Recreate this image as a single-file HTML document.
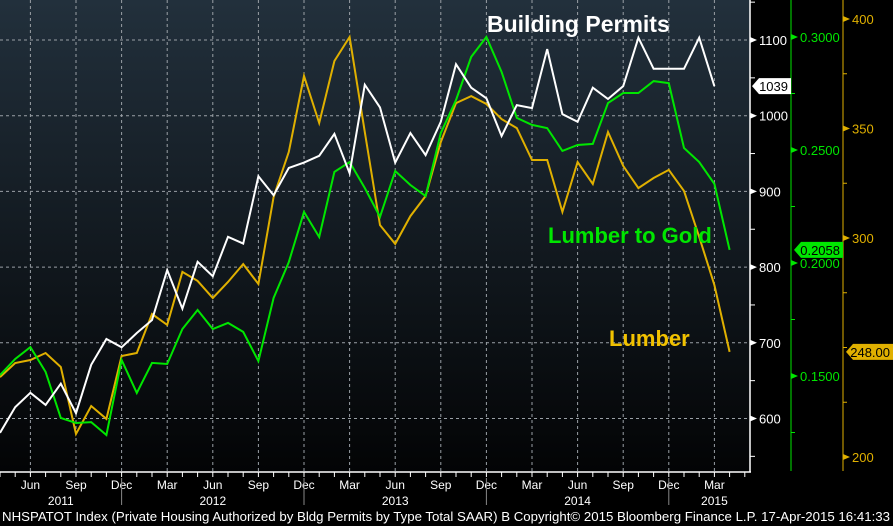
<!DOCTYPE html>
<html><head><meta charset="utf-8"><style>
html,body{margin:0;padding:0;background:#000;}
svg{display:block;font-family:"Liberation Sans",sans-serif;}
</style></head><body>
<svg id="c" width="893" height="526" viewBox="0 0 893 526" xmlns="http://www.w3.org/2000/svg">
<defs><linearGradient id="bg" x1="0" y1="0" x2="0" y2="1"><stop offset="0" stop-color="#22303c"/><stop offset="1" stop-color="#030405"/></linearGradient></defs>
<rect x="0" y="0" width="893" height="526" fill="#000"/>
<rect x="0" y="0" width="750" height="472" fill="url(#bg)"/>
<g id="grid"></g><g id="series"></g><g id="axes"></g>
<text x="487" y="32" fill="#fff" font-size="23" font-weight="bold">Building Permits</text>
<text x="548" y="243" fill="#00e600" font-size="22" font-weight="bold">Lumber to Gold</text>
<text x="609" y="346" fill="#f2c200" font-size="22" font-weight="bold">Lumber</text>
<text x="2" y="521" fill="#fff" font-size="13" textLength="888" lengthAdjust="spacingAndGlyphs">NHSPATOT Index (Private Housing Authorized by Bldg Permits by Type Total SAAR) B Copyright© 2015 Bloomberg Finance L.P. 17-Apr-2015 16:41:33</text>
</svg>
<script>
const permits=[581,615,634,618,646,607,671,705,694,713,730,796,745,807,788,840,831,920,895,931,938,947,976,924,1041,1011,938,977,948,992,1068,1037,1023,973,1014,1010,1088,1002,992,1037,1022,1039,1103,1062,1062,1062,1103,1039];
const lumberGold=[.1504,.1575,.1628,.1518,.1314,.1292,.1296,.1239,.1571,.1425,.1558,.1553,.1708,.1792,.1708,.1735,.1695,.1566,.1845,.2004,.2226,.2115,.2403,.2447,.2332,.2204,.2407,.2345,.2296,.2575,.2721,.2912,.3000,.2845,.2642,.2611,.2597,.2496,.2522,.2527,.2708,.2752,.2752,.2805,.2796,.2509,.2447,.2350,.2058];
const lumber=[236.5,242.9,244.3,247.5,241.1,210.5,223.3,217.4,246.1,247.5,265.3,260.3,284.5,280.4,272.6,279.9,288.1,279.0,318.7,339.3,374.0,352.5,380.8,391.8,348.4,305.9,297.3,310.0,319.2,343.8,361.6,364.8,361.2,354.3,350.2,335.6,335.6,311.9,334.7,324.7,348.4,332.9,322.8,327.4,331.1,321.5,300.5,278.5,248.0];
const leftTicks=[600,700,800,900,1000,1100];
const greenTicks=[0.15,0.20,0.25,0.30];
const goldTicks=[200,300,350,400];
const monthLabels=["Jun","Sep","Dec","Mar","Jun","Sep","Dec","Mar","Jun","Sep","Dec","Mar","Jun","Sep","Dec","Mar"];
const yearLabels=["2011","2012","2013","2014","2015"];
const yearIdx=[4,14,26,38,47]; // month index of label centre
const NS="http://www.w3.org/2000/svg";
const X=i=>i*15.2;
const YL=v=>40+(1100-v)*0.757;
const YG=v=>37+(0.30-v)*2260;
const YO=v=>19+(400-v)*2.19;
function mk(p,t,a){const e=document.createElementNS(NS,t);for(const k in a)e.setAttribute(k,a[k]);p.appendChild(e);return e;}
const grid=document.getElementById('grid'),ser=document.getElementById('series'),ax=document.getElementById('axes');
leftTicks.forEach(v=>{const l=mk(grid,'line',{x1:0,x2:750,y1:YL(v),y2:YL(v),stroke:'#9aa0a6','stroke-width':1,'stroke-dasharray':'3,3'});

});
monthLabels.forEach((m,q)=>{const x=X(2+3*q);const l=mk(grid,'line',{x1:x,x2:x,y1:0,y2:472,stroke:'#9aa0a6','stroke-width':1,'stroke-dasharray':'3,3'});


const t=mk(ax,'text',{x:x,y:489,fill:'#fff','font-size':12,'text-anchor':'middle'});t.textContent=m;

});
yearLabels.forEach((y,k)=>{const t=mk(ax,'text',{x:X(yearIdx[k]),y:505,fill:'#fff','font-size':12,'text-anchor':'middle'});t.textContent=y;

});
[0,1,2,3].forEach(k=>{const x=X(8+12*k);const l=mk(ax,'line',{x1:x,x2:x,y1:478,y2:505,stroke:'#888','stroke-width':1});

});
function line(arr,f,col,name){const d=arr.map((v,i)=>(i?'L':'M')+X(i).toFixed(1)+','+f(v).toFixed(1)).join('');
const p=mk(ser,'path',{d:d,fill:'none',stroke:col,'stroke-width':2,'stroke-linejoin':'miter'});

}
line(lumber,YO,'#e0b000','lumber-line');
line(lumberGold,YG,'#00e600','lumber-to-gold-line');
line(permits,YL,'#ffffff','building-permits-line');
let a=mk(ax,'line',{x1:0,x2:751,y1:472,y2:472,stroke:'#fff','stroke-width':1.5});


for(let i=0;i<50;i++){const t=mk(ax,'line',{x1:X(i),x2:X(i),y1:472,y2:477,stroke:'#fff','stroke-width':1});

}
a=mk(ax,'line',{x1:750,x2:750,y1:0,y2:472,stroke:'#fff','stroke-width':1.5});


for(let v=550;v<=1150;v+=50){const y=YL(v);const t=mk(ax,'line',{x1:750,x2:755,y1:y,y2:y,stroke:'#fff'});

}
leftTicks.forEach(v=>{const y=YL(v);const p=mk(ax,'path',{d:`M750,${y-3}L757,${y}L750,${y+3}Z`,fill:'#fff'});


const t=mk(ax,'text',{x:759,y:y+5,fill:'#fff','font-size':13});t.textContent=v;

});
a=mk(ax,'line',{x1:791,x2:791,y1:0,y2:471,stroke:'#00e600','stroke-width':1});


for(let v=0.125;v<=0.3;v+=0.025){const y=YG(v);const t=mk(ax,'line',{x1:791,x2:795,y1:y,y2:y,stroke:'#00e600'});

}
greenTicks.forEach(v=>{const y=YG(v);const p=mk(ax,'path',{d:`M791,${y-3}L798,${y}L791,${y+3}Z`,fill:'#00e600'});


const t=mk(ax,'text',{x:800,y:y+5,fill:'#00e600','font-size':13});t.textContent=v.toFixed(4);

});
a=mk(ax,'line',{x1:843,x2:843,y1:0,y2:471,stroke:'#e0b000','stroke-width':1});


for(let v=200;v<=400;v+=25){const y=YO(v);const t=mk(ax,'line',{x1:843,x2:847,y1:y,y2:y,stroke:'#e0b000'});

}
goldTicks.forEach(v=>{const y=YO(v);const p=mk(ax,'path',{d:`M843,${y-3}L850,${y}L843,${y+3}Z`,fill:'#e0b000'});


const t=mk(ax,'text',{x:852,y:y+5,fill:'#e0b000','font-size':13});t.textContent=v;

});
function tag(x,w,y,bg,fg,txt,name){const p=mk(ax,'path',{d:`M${x},${y}L${x+7},${y-8}L${x+w},${y-8}L${x+w},${y+8}L${x+7},${y+8}Z`,fill:bg});


const t=mk(ax,'text',{x:x+w-3,y:y+5,fill:fg,'font-size':13,'text-anchor':'end'});t.textContent=txt;

}
const lp=permits[permits.length-1],lg=lumberGold[lumberGold.length-1],lo=lumber[lumber.length-1];
tag(752,39,YL(lp),'#fff','#000',String(lp),'permits-last-value');
tag(794,49,YG(lg),'#00e600','#000',lg.toFixed(4),'lumber-gold-last-value');
tag(846,47,YO(lo),'#e0b000','#000',lo.toFixed(2),'lumber-last-value');
</script>
</body></html>
